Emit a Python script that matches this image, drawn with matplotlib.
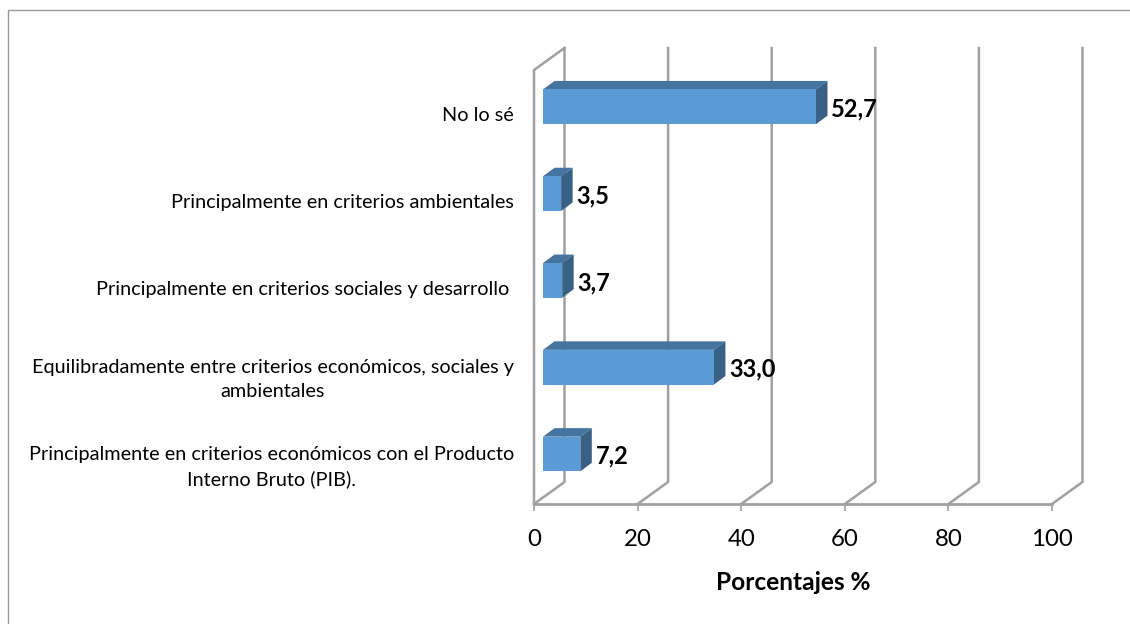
import numpy as np
from matplotlib import pyplot as plt
from matplotlib.lines import Line2D
from matplotlib.transforms import Affine2D

categories = [
    "Principalmente en criterios económicos con el Producto\nInterno Bruto (PIB).",
    "Equilibradamente entre criterios económicos, sociales y\nambientales",
    "Principalmente en criterios sociales y desarrollo ",
    "Principalmente en criterios ambientales",
    "No lo sé",
]
values = [7.2, 33.0, 3.7, 3.5, 52.7]
value_labels = ["7,2", "33,0", "3,7", "3,5", "52,7"]
x_ticks = [0, 20, 40, 60, 80, 100]

W, H = 1130, 624
plt.rcParams['font.family'] = ['Lato', 'DejaVu Sans']

fig = plt.figure(figsize=(W/100, H/100), dpi=100)
ax = fig.add_axes([534/W, (H-504)/H, 518/W, 434/H])
ax.set_xlim(0, 100)
ax.set_ylim(-0.5, 4.5)
for s in ax.spines.values():
    s.set_visible(False)

grey = "#a0a0a0"
px_x = 100/518
px_y = 5/434

# depth of the 3d walls and of the bars, in data units
wall_dx, wall_dy = 30.5*px_x, 22*px_y
bar_dx, bar_dy = 11.5*px_x, 8.5*px_y
off_x, off_y = 9*px_x, 6.6*px_y
h = 0.4

# walls
for t in x_ticks:
    ax.plot([t, t+wall_dx, t+wall_dx], [-0.5, -0.5+wall_dy, 4.5+wall_dy],
            color=grey, lw=1.8, clip_on=False, zorder=1)
ax.plot([0, 0, wall_dx], [-0.5, 4.5, 4.5+wall_dy], color=grey, lw=1.8, clip_on=False, zorder=1)
ax.plot([0, 100], [-0.5, -0.5], color=grey, lw=2.0, clip_on=False, zorder=1)

# bars
y = np.arange(len(values))
for yi, v, lab in zip(y, values, value_labels):
    x0, x1 = off_x, off_x + v
    lo, hi = yi + off_y - h/2, yi + off_y + h/2
    ax.fill([x0, x1, x1+bar_dx, x0+bar_dx], [hi, hi, hi+bar_dy, hi+bar_dy],
            color="#44749f", lw=0, clip_on=False, zorder=3)
    ax.fill([x1, x1+bar_dx, x1+bar_dx, x1], [lo, lo+bar_dy, hi+bar_dy, hi],
            color="#386185", lw=0, clip_on=False, zorder=3)
    ax.barh(yi + off_y, v, height=h, left=x0, color="#5b9bd5", zorder=4)
    ax.annotate(lab, (x1, yi + off_y), xytext=(11, -1.5), textcoords="offset points",
                ha="left", va="center", fontsize=17, fontweight="bold", color="black",
                annotation_clip=False, zorder=5)

ax.set_yticks(y)
ax.set_yticklabels(categories, fontsize=14.3, color="black", multialignment="center", linespacing=1.5)
ax.tick_params(axis="y", length=0, pad=14.4)
for label in ax.get_yticklabels():
    label.set_transform(label.get_transform() + Affine2D().translate(0, -1))
ax.set_xticks(x_ticks)
ax.set_xticklabels([str(t) for t in x_ticks], fontsize=17.3)
ax.tick_params(axis="x", length=5, width=1.2, color=grey, pad=13)
ax.set_xlabel("Porcentajes %", fontsize=17.6, fontweight="bold", labelpad=15)

# outer frame, only top and left show
fig.add_artist(Line2D([7.5/W, 7.5/W, 1], [0, (H-10)/H, (H-10)/H],
                      color="#9a9a9a", lw=1.0, transform=fig.transFigure))

plt.savefig("out.png", dpi=100)
